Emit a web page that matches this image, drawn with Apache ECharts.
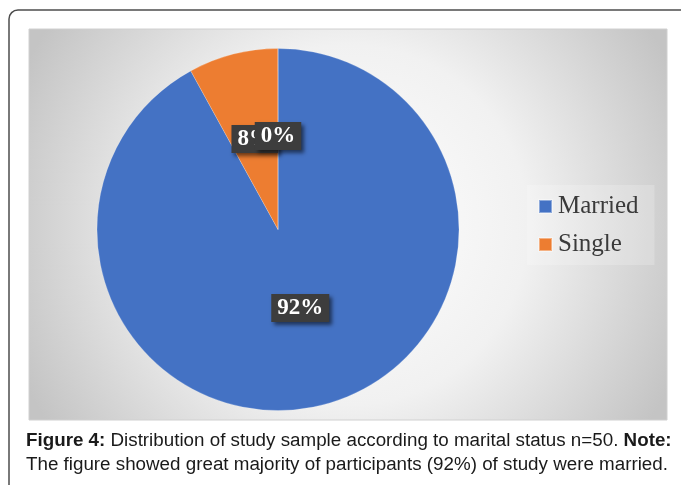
<!DOCTYPE html>
<html>
<head>
<meta charset="utf-8">
<script src="https://cdn.jsdelivr.net/npm/echarts/dist/echarts.min.js"></script>
<style>
  html, body { margin: 0; padding: 0; background: #fff; }
  #chart { width: 681px; height: 485px; }
</style>
</head>
<body>
<div id="chart"></div>
<script>
// marital status, n = 50
var categories = ['Married', 'Single', 'Other'];
var counts = [46, 4, 0];          // third entry is the empty 0% slice shown in the picture
var colors = ['#4472C4', '#ED7D31', '#A5A5A5'];
var legendNames = ['Married', 'Single'];

var total = counts.reduce(function (a, b) { return a + b; }, 0);

var pieData = categories.map(function (name, i) {
  var item = { name: name, value: counts[i], itemStyle: { color: colors[i] } };
  if (i === 0) item.label = { offset: [-1, -12] };   // the big label sits a bit nearer the centre
  return item;
});

var myChart = echarts.init(document.getElementById('chart'));

var option = {
  animation: false,
  graphic: [
    // outer frame of the figure
    {
      type: 'rect', z: 0,
      shape: { x: 9, y: 10, width: 700, height: 500, r: [9, 0, 0, 0] },
      style: { fill: '#fff', stroke: '#4d4d4d', lineWidth: 1.5 }
    },
    // grey chart area
    {
      type: 'rect', z: 1,
      shape: { x: 29, y: 29, width: 638, height: 391 },
      style: {
        fill: {
          type: 'radial', global: true, x: 348, y: 225, r: 360,
          colorStops: [
            { offset: 0, color: '#ffffff' },
            { offset: 0.5, color: '#f1f1f1' },
            { offset: 1, color: '#c4c4c4' }
          ]
        },
        stroke: '#d0d0d0', lineWidth: 1
      }
    },
    // caption
    {
      type: 'text', z: 2, x: 26, y: 429,
      style: {
        text: '{b|Figure 4:} Distribution of study sample according to marital status n=50. {b|Note:}\nThe figure showed great majority of participants (92%) of study were married.',
        font: '18.8px "Liberation Sans", Arial, sans-serif',
        fill: '#1a1a1a',
        lineHeight: 24,
        rich: {
          b: { fontWeight: 'bold', fontSize: 18.8, fontFamily: '"Liberation Sans", Arial, sans-serif', fill: '#1a1a1a' }
        }
      }
    }
  ],
  legend: {
    data: legendNames,
    orient: 'vertical',
    left: 527,
    top: 185,
    padding: [9, 16, 8, 11],
    backgroundColor: 'rgba(255,255,255,0.2)',
    itemWidth: 13,
    itemHeight: 13,
    itemGap: 13,
    icon: 'rect',
    textStyle: {
      fontFamily: '"Liberation Serif", "Times New Roman", serif',
      fontSize: 25,
      color: '#3a3a3a',
      padding: [0, 0, 0, 1]
    }
  },
  series: [
    {
      type: 'pie',
      center: [278, 229.5],
      radius: 181,
      startAngle: 90,
      clockwise: true,
      minAngle: 0.01,
      minShowLabelAngle: -1,
      avoidLabelOverlap: false,
      labelLayout: { hideOverlap: false, moveOverlap: null },
      data: pieData,
      itemStyle: { borderColor: 'rgba(255,255,255,0.4)', borderWidth: 0.5 },
      label: {
        show: true,
        position: 'inside',
        formatter: function (p) {
          return Math.round(p.value / total * 100) + '%';
        },
        fontFamily: '"Liberation Serif", "Times New Roman", serif',
        fontWeight: 'bold',
        fontSize: 23,
        color: '#fff',
        backgroundColor: '#3d3d3d',
        padding: [3, 6, 2, 6],
        shadowColor: 'rgba(0,0,0,0.55)',
        shadowBlur: 4,
        shadowOffsetX: 3,
        shadowOffsetY: 3
      },
      labelLine: { show: false },
      emphasis: { disabled: true }
    }
  ]
};

myChart.setOption(option);
</script>
</body>
</html>
